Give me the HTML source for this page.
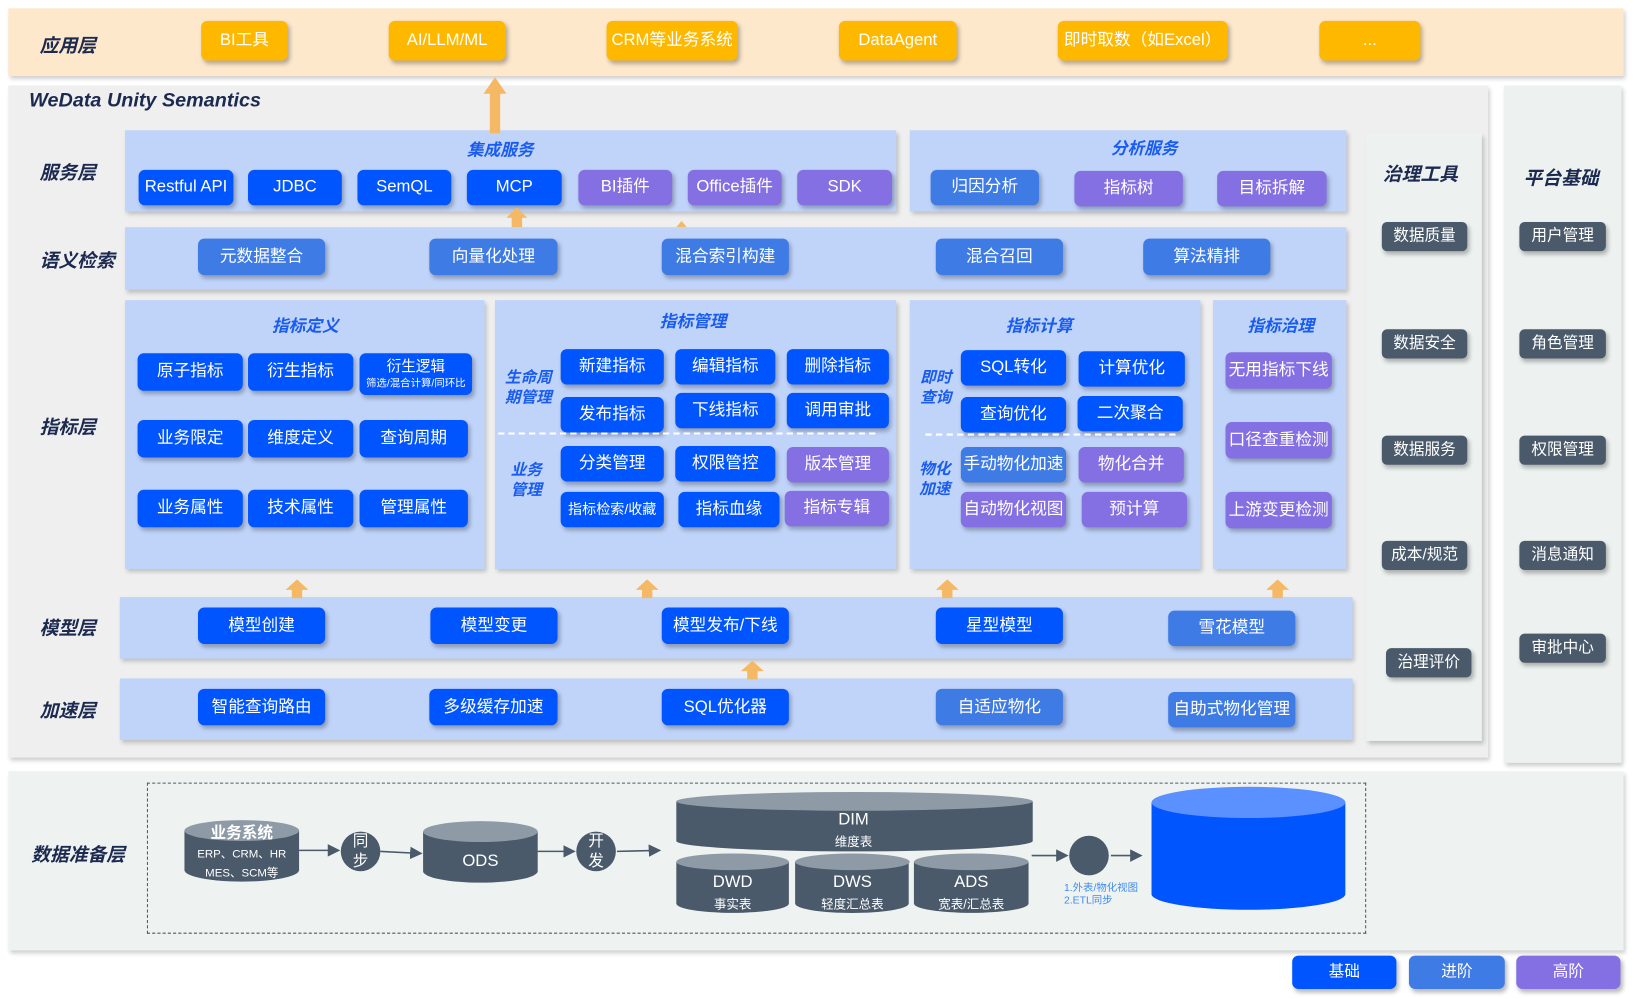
<!DOCTYPE html>
<html><head><meta charset="utf-8"><style>
body{margin:0;width:1634px;height:999px;overflow:hidden;background:#fff;font-family:"Liberation Sans","Noto Sans CJK SC",sans-serif}
#w{position:absolute;left:0;top:0;width:1568px;height:959px;transform:scale(1.0421);transform-origin:0 0}
.p{position:absolute;box-shadow:2px 3px 4px rgba(0,0,0,.2)}
.b{position:absolute;border-radius:6px;color:#fff;display:flex;align-items:center;justify-content:center;font-size:16px;box-shadow:2px 3px 4px rgba(0,0,0,.28);text-align:center;line-height:1.1}
.c1{background:#0055FF}.c2{background:#3F7BE4}.c3{background:#8470E2}.o{background:#FFB800}.d{background:#4A5A6B;font-size:15px;border-radius:5px}
.t{position:absolute;font-weight:bold;font-style:italic;color:#1A5CF0;font-size:16px;transform:translate(-50%,-50%);white-space:nowrap}
.L{position:absolute;font-weight:bold;font-style:italic;color:#1C2A50;font-size:18px;transform:translateY(-50%);white-space:nowrap}
.s{position:absolute;font-weight:bold;font-style:italic;color:#1A5CF0;font-size:15px;line-height:19px;transform:translate(-50%,-50%);text-align:center}
.dash{position:absolute;border-top:2px dashed #fff;height:0}
</style></head><body><div id="w">
<div class="p" style="left:8px;top:8px;width:1550px;height:65px;background:#FDE8CC"></div>
<div class="L" style="left:38px;top:43px">应用层</div>
<div class="b o" style="left:193px;top:20px;width:83px;height:38px">BI工具</div>
<div class="b o" style="left:373px;top:20px;width:112px;height:38px">AI/LLM/ML</div>
<div class="b o" style="left:582px;top:20px;width:126px;height:38px">CRM等业务系统</div>
<div class="b o" style="left:805px;top:20px;width:113px;height:38px">DataAgent</div>
<div class="b o" style="left:1015px;top:20px;width:163px;height:38px">即时取数（如Excel）</div>
<div class="b o" style="left:1266px;top:20px;width:97px;height:38px">...</div>

<div class="p" style="left:8px;top:82px;width:1420px;height:645px;background:#EFEFEF"></div>
<div class="L" style="left:28px;top:97px;font-size:19px">WeData Unity Semantics</div>
<div class="p" style="left:1443px;top:82px;width:113px;height:650px;background:#EDF2F0"></div>
<div class="p" style="left:1311px;top:128px;width:111px;height:583px;background:#EDF2F0"></div>

<div class="L" style="left:38px;top:165px">服务层</div>
<div class="p" style="left:120px;top:125px;width:740px;height:78px;background:#C0D4FA"></div>
<div class="t" style="left:480px;top:142px">集成服务</div>
<div class="b c1" style="left:133px;top:163px;width:91px;height:34px">Restful API</div>
<div class="b c1" style="left:238px;top:163px;width:90px;height:34px">JDBC</div>
<div class="b c1" style="left:343px;top:163px;width:90px;height:34px">SemQL</div>
<div class="b c1" style="left:448px;top:163px;width:91px;height:34px">MCP</div>
<div class="b c3" style="left:555px;top:163px;width:90px;height:34px">BI插件</div>
<div class="b c3" style="left:660px;top:163px;width:90px;height:34px">Office插件</div>
<div class="b c3" style="left:765px;top:163px;width:91px;height:34px">SDK</div>
<div class="p" style="left:873px;top:125px;width:419px;height:78px;background:#C0D4FA"></div>
<div class="t" style="left:1098px;top:141px">分析服务</div>
<div class="b c2" style="left:893px;top:163px;width:104px;height:34px">归因分析</div>
<div class="b c3" style="left:1031px;top:164px;width:104px;height:34px">指标树</div>
<div class="b c3" style="left:1168px;top:164px;width:105px;height:34px">目标拆解</div>

<div class="L" style="left:38px;top:249px">语义检索</div>
<div class="p" style="left:120px;top:218px;width:1172px;height:60px;background:#C0D4FA"></div>
<div class="b c2" style="left:190px;top:229px;width:122px;height:35px">元数据整合</div>
<div class="b c2" style="left:412px;top:229px;width:123px;height:35px">向量化处理</div>
<div class="b c2" style="left:635px;top:229px;width:122px;height:35px">混合索引构建</div>
<div class="b c2" style="left:898px;top:229px;width:122px;height:35px">混合召回</div>
<div class="b c2" style="left:1097px;top:229px;width:122px;height:35px">算法精排</div>

<div class="L" style="left:38px;top:409px">指标层</div>
<div class="p" style="left:120px;top:288px;width:345px;height:258px;background:#C0D4FA"></div>
<div class="p" style="left:475px;top:288px;width:385px;height:258px;background:#C0D4FA"></div>
<div class="p" style="left:873px;top:288px;width:279px;height:258px;background:#C0D4FA"></div>
<div class="p" style="left:1164px;top:288px;width:128px;height:258px;background:#C0D4FA"></div>
<div class="t" style="left:293px;top:311px">指标定义</div>
<div class="b c1" style="left:132px;top:339px;width:101px;height:36px">原子指标</div>
<div class="b c1" style="left:238px;top:339px;width:101px;height:36px">衍生指标</div>
<div class="b c1" style="left:345px;top:339px;width:108px;height:40px;flex-direction:column;font-size:14px">衍生逻辑<span style="font-size:10px;margin-top:3px">筛选/混合计算/同环比</span></div>
<div class="b c1" style="left:132px;top:403px;width:101px;height:36px">业务限定</div>
<div class="b c1" style="left:238px;top:403px;width:101px;height:36px">维度定义</div>
<div class="b c1" style="left:345px;top:403px;width:104px;height:36px">查询周期</div>
<div class="b c1" style="left:132px;top:470px;width:101px;height:36px">业务属性</div>
<div class="b c1" style="left:238px;top:470px;width:101px;height:36px">技术属性</div>
<div class="b c1" style="left:345px;top:470px;width:104px;height:36px">管理属性</div>

<div class="t" style="left:665px;top:307px">指标管理</div>
<div class="s" style="left:507px;top:372px">生命周<br>期管理</div>
<div class="s" style="left:505px;top:461px">业务<br>管理</div>
<div class="b c1" style="left:538px;top:335px;width:99px;height:34px">新建指标</div>
<div class="b c1" style="left:648px;top:335px;width:96px;height:34px">编辑指标</div>
<div class="b c1" style="left:755px;top:335px;width:98px;height:34px">删除指标</div>
<div class="b c1" style="left:538px;top:381px;width:99px;height:34px">发布指标</div>
<div class="b c1" style="left:648px;top:377px;width:96px;height:34px">下线指标</div>
<div class="b c1" style="left:755px;top:377px;width:98px;height:34px">调用审批</div>
<div class="dash" style="left:478px;top:415px;width:362px"></div>
<div class="b c1" style="left:538px;top:428px;width:99px;height:34px">分类管理</div>
<div class="b c1" style="left:648px;top:428px;width:96px;height:34px">权限管控</div>
<div class="b c3" style="left:755px;top:429px;width:98px;height:34px">版本管理</div>
<div class="b c1" style="left:538px;top:472px;width:99px;height:34px;font-size:13.5px">指标检索/收藏</div>
<div class="b c1" style="left:651px;top:472px;width:97px;height:34px">指标血缘</div>
<div class="b c3" style="left:753px;top:471px;width:100px;height:34px">指标专辑</div>

<div class="t" style="left:997px;top:311px">指标计算</div>
<div class="s" style="left:898px;top:372px">即时<br>查询</div>
<div class="s" style="left:897px;top:460px">物化<br>加速</div>
<div class="b c1" style="left:922px;top:336px;width:101px;height:34px">SQL转化</div>
<div class="b c1" style="left:1035px;top:337px;width:102px;height:34px">计算优化</div>
<div class="b c1" style="left:922px;top:381px;width:101px;height:34px">查询优化</div>
<div class="b c1" style="left:1034px;top:380px;width:101px;height:34px">二次聚合</div>
<div class="dash" style="left:888px;top:416px;width:240px"></div>
<div class="b c2" style="left:922px;top:429px;width:101px;height:34px">手动物化加速</div>
<div class="b c3" style="left:1035px;top:429px;width:101px;height:34px">物化合并</div>
<div class="b c3" style="left:922px;top:472px;width:101px;height:34px">自动物化视图</div>
<div class="b c3" style="left:1038px;top:472px;width:101px;height:34px">预计算</div>

<div class="t" style="left:1229px;top:311px">指标治理</div>
<div class="b c3" style="left:1176px;top:338px;width:102px;height:35px">无用指标下线</div>
<div class="b c3" style="left:1176px;top:405px;width:102px;height:35px">口径查重检测</div>
<div class="b c3" style="left:1176px;top:472px;width:102px;height:35px">上游变更检测</div>

<div class="L" style="left:38px;top:602px">模型层</div>
<div class="p" style="left:115px;top:573px;width:1183px;height:59px;background:#C0D4FA"></div>
<div class="b c1" style="left:190px;top:583px;width:122px;height:35px">模型创建</div>
<div class="b c1" style="left:413px;top:583px;width:122px;height:35px">模型变更</div>
<div class="b c1" style="left:635px;top:583px;width:122px;height:35px">模型发布/下线</div>
<div class="b c1" style="left:898px;top:583px;width:122px;height:35px">星型模型</div>
<div class="b c2" style="left:1121px;top:586px;width:122px;height:34px">雪花模型</div>

<div class="L" style="left:38px;top:681px">加速层</div>
<div class="p" style="left:115px;top:651px;width:1183px;height:59px;background:#C0D4FA"></div>
<div class="b c1" style="left:190px;top:661px;width:122px;height:35px">智能查询路由</div>
<div class="b c1" style="left:412px;top:661px;width:123px;height:35px">多级缓存加速</div>
<div class="b c1" style="left:635px;top:661px;width:122px;height:35px">SQL优化器</div>
<div class="b c2" style="left:898px;top:661px;width:122px;height:35px">自适应物化</div>
<div class="b c2" style="left:1121px;top:664px;width:122px;height:34px">自助式物化管理</div>

<div class="L" style="left:1327px;top:166px;color:#1C2A50">治理工具</div>
<div class="b d" style="left:1326px;top:213px;width:82px;height:28px">数据质量</div>
<div class="b d" style="left:1326px;top:316px;width:82px;height:28px">数据安全</div>
<div class="b d" style="left:1326px;top:418px;width:82px;height:28px">数据服务</div>
<div class="b d" style="left:1326px;top:519px;width:82px;height:28px">成本/规范</div>
<div class="b d" style="left:1330px;top:622px;width:82px;height:28px">治理评价</div>
<div class="L" style="left:1462px;top:170px">平台基础</div>
<div class="b d" style="left:1458px;top:213px;width:83px;height:28px">用户管理</div>
<div class="b d" style="left:1458px;top:316px;width:83px;height:28px">角色管理</div>
<div class="b d" style="left:1458px;top:418px;width:83px;height:28px">权限管理</div>
<div class="b d" style="left:1458px;top:519px;width:83px;height:28px">消息通知</div>
<div class="b d" style="left:1458px;top:608px;width:83px;height:28px">审批中心</div>

<div class="p" style="left:8px;top:740px;width:1550px;height:172px;background:#EEF3F1"></div>
<div class="L" style="left:30px;top:819px">数据准备层</div>
<div style="position:absolute;left:141px;top:751px;width:1168px;height:143px;border:1px dashed #4A5A6B"></div>

<svg style="position:absolute;left:0;top:0" width="1568" height="959" font-family="Liberation Sans, Noto Sans CJK SC, sans-serif">
<defs><marker id="a" markerWidth="8" markerHeight="8" refX="7" refY="4" orient="auto"><path d="M0,0L8,4L0,8z" fill="#4A5A6B"/></marker></defs>
<g fill="#F5B865">
<rect x="470" y="88" width="10" height="40"/><path d="M464,90L475,74L486,90z"/>
<rect x="491" y="207" width="10" height="11"/><path d="M486,209L496,199L506,209z"/>
<path d="M649,218L654,212L659,218z"/>
<rect x="280" y="564" width="10" height="10"/><path d="M274,566L285,556L296,566z"/>
<rect x="616" y="564" width="10" height="10"/><path d="M610,566L621,556L632,566z"/>
<rect x="904" y="564" width="10" height="10"/><path d="M898,566L909,556L920,566z"/>
<rect x="1221" y="564" width="10" height="10"/><path d="M1215,566L1226,556L1237,566z"/>
<rect x="717" y="642" width="10" height="10"/><path d="M711,644L722,634L733,644z"/>
</g>
<g stroke="#4A5A6B" stroke-width="1.5" marker-end="url(#a)">
<line x1="287" y1="816" x2="325" y2="816"/><line x1="365" y1="817" x2="404" y2="819"/>
<line x1="516" y1="817" x2="551" y2="817"/><line x1="592" y1="817" x2="633" y2="816"/>
<line x1="990" y1="821" x2="1024" y2="821"/><line x1="1066" y1="821" x2="1095" y2="821"/>
</g>
<g>
<path d="M177,797 v38 a55,11 0 0 0 110,0 v-38 z" fill="#4A5A6B"/><ellipse cx="232" cy="797" rx="55" ry="10" fill="#8E9AA5"/>
<text x="232" y="804" fill="#fff" font-size="15" font-weight="bold" text-anchor="middle">业务系统</text>
<text x="232" y="823" fill="#fff" font-size="11" text-anchor="middle">ERP、CRM、HR</text>
<text x="232" y="841" fill="#fff" font-size="11" text-anchor="middle">MES、SCM等</text>
<circle cx="346" cy="817" r="19" fill="#4A5A6B"/><text x="346" y="812" fill="#fff" font-size="15" text-anchor="middle">同</text><text x="346" y="831" fill="#fff" font-size="15" text-anchor="middle">步</text>
<path d="M406,798 v38 a55,11 0 0 0 110,0 v-38 z" fill="#4A5A6B"/><ellipse cx="461" cy="798" rx="55" ry="10" fill="#8E9AA5"/>
<text x="461" y="831" fill="#fff" font-size="16" text-anchor="middle">ODS</text>
<circle cx="572" cy="817" r="19" fill="#4A5A6B"/><text x="572" y="812" fill="#fff" font-size="15" text-anchor="middle">开</text><text x="572" y="831" fill="#fff" font-size="15" text-anchor="middle">发</text>
<path d="M649,769 v38 a171,10 0 0 0 342,0 v-38 z" fill="#4A5A6B"/><ellipse cx="820" cy="769" rx="171" ry="9" fill="#8E9AA5"/>
<text x="819" y="791" fill="#fff" font-size="16" text-anchor="middle">DIM</text><text x="819" y="812" fill="#fff" font-size="12" text-anchor="middle">维度表</text>
<path d="M649,827 v40 a54,9 0 0 0 108,0 v-40 z" fill="#4A5A6B"/><ellipse cx="703" cy="827" rx="54" ry="8" fill="#8E9AA5"/>
<text x="703" y="851" fill="#fff" font-size="16" text-anchor="middle">DWD</text><text x="703" y="872" fill="#fff" font-size="12" text-anchor="middle">事实表</text>
<path d="M763,827 v40 a54,9 0 0 0 109,0 v-40 z" fill="#4A5A6B"/><ellipse cx="818" cy="827" rx="55" ry="8" fill="#8E9AA5"/>
<text x="818" y="851" fill="#fff" font-size="16" text-anchor="middle">DWS</text><text x="818" y="872" fill="#fff" font-size="12" text-anchor="middle">轻度汇总表</text>
<path d="M877,827 v40 a55,9 0 0 0 110,0 v-40 z" fill="#4A5A6B"/><ellipse cx="932" cy="827" rx="55" ry="8" fill="#8E9AA5"/>
<text x="932" y="851" fill="#fff" font-size="16" text-anchor="middle">ADS</text><text x="932" y="872" fill="#fff" font-size="12" text-anchor="middle">宽表/汇总表</text>
<ellipse cx="1045" cy="821" rx="19" ry="19" fill="#4A5A6B"/>
<text x="1021" y="855" fill="#3D8BF0" font-size="10">1.外表/物化视图</text><text x="1021" y="867" fill="#3D8BF0" font-size="10">2.ETL同步</text>
<path d="M1105,770 v88 a93,15 0 0 0 186,0 v-88 z" fill="#0055FF"/><ellipse cx="1198" cy="770" rx="93" ry="15" fill="#5A90FF"/>
</g>
</svg>

<div class="b c1" style="left:1240px;top:917px;width:100px;height:32px;font-size:15px">基础</div>
<div class="b c2" style="left:1352px;top:917px;width:92px;height:32px;font-size:15px">进阶</div>
<div class="b c3" style="left:1455px;top:917px;width:100px;height:32px;font-size:15px">高阶</div>
</div></body></html>
